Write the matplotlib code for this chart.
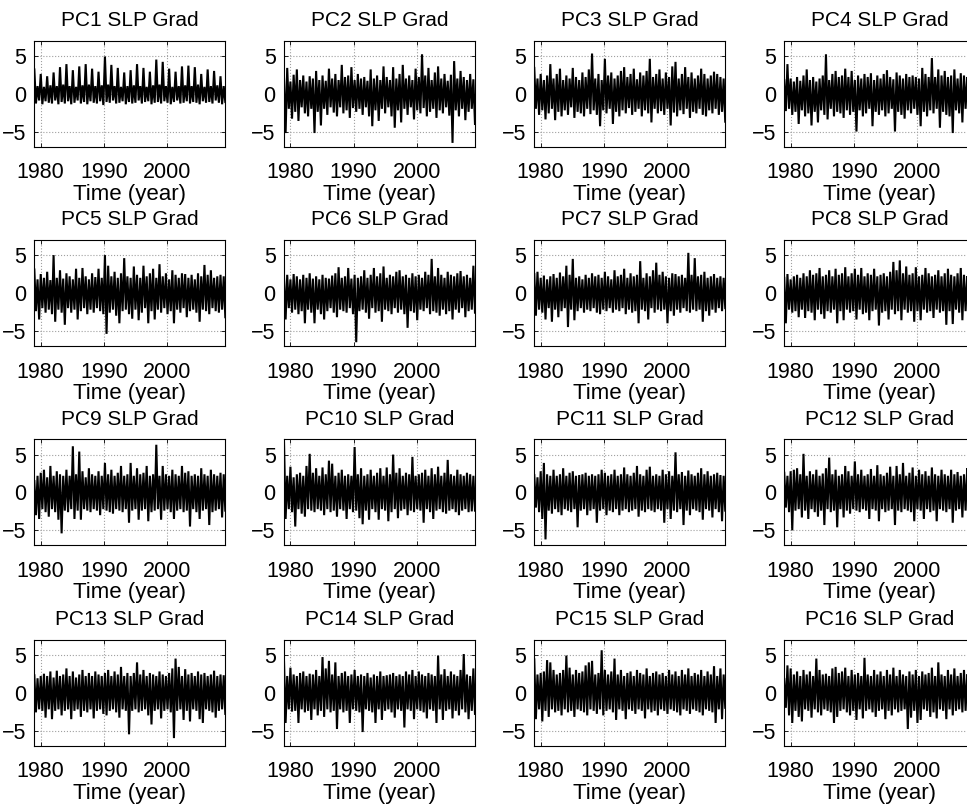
import numpy as np
import matplotlib.pyplot as plt

plt.rcParams['font.family'] = ['Liberation Sans', 'DejaVu Sans']

# ==================== data ====================
# Each PC series is kept as its upper and lower swings, read off left to right
# (roughly one value per half year, 1979-2009).
YEAR_START = 1979.0
YEAR_END = 2009.15

PC1_HI = [3.2, 1.0, 2.6, 0.9, 2.3, 1.1, 2.8, 1.0, 3.5, 1.2, 3.9, 1.0, 3.1, 0.9, 3.6, 1.1, 3.9, 1.2, 3.3, 1.0,
          2.9, 1.1, 4.9, 1.2, 3.8, 1.0, 3.4, 0.9, 2.8, 1.0, 3.1, 1.1, 3.9, 1.0, 3.4, 0.9, 2.9, 1.1, 4.5, 1.2,
          4.2, 1.0, 3.3, 0.9, 2.9, 1.0, 3.6, 1.1, 3.7, 1.0, 3.5, 1.2, 2.6, 0.9, 3.2, 1.0, 3.0, 1.1, 2.3, 1.0]
PC1_LO = [-1.3, -0.9, -1.4, -1.0, -1.2, -1.3, -0.9, -1.4, -1.1, -1.3, -1.0, -1.4, -1.2, -0.9, -1.3, -1.1, -1.4, -1.0, -1.2, -1.3,
          -1.0, -1.5, -1.1, -1.2, -0.9, -1.3, -1.2, -1.0, -1.4, -1.1, -1.3, -1.2, -0.9, -1.3, -1.1, -1.0, -1.4, -1.2, -1.1, -1.3,
          -1.0, -1.2, -1.4, -1.1, -0.9, -1.3, -1.2, -1.0, -1.3, -1.1, -1.2, -1.4, -1.0, -1.2, -1.1, -1.3, -0.9, -1.2, -1.4, -1.1]

PC2_HI = [2.0, 3.4, 1.6, 2.5, 3.2, 1.8, 2.4, 1.6, 2.3, 2.0, 3.0, 1.8, 2.4, 1.7, 3.3, 2.0, 2.6, 1.8, 3.8, 2.2,
          2.4, 3.5, 1.8, 2.6, 2.0, 2.2, 1.7, 3.2, 2.0, 2.4, 1.8, 3.6, 2.2, 1.8, 3.5, 2.0, 2.6, 3.8, 2.0, 2.4,
          1.8, 3.3, 2.2, 5.2, 2.4, 3.4, 1.8, 2.8, 3.6, 2.0, 2.6, 1.7, 2.5, 4.3, 2.0, 3.0, 2.2, 1.8, 2.6, 1.9]
PC2_LO = [-5.2, -2.0, -3.3, -2.4, -3.6, -1.8, -2.6, -3.0, -2.0, -5.2, -2.4, -4.2, -2.0, -2.8, -1.8, -2.5, -3.0, -1.8, -2.6, -2.2,
          -3.2, -1.9, -2.4, -2.0, -2.8, -1.8, -3.0, -4.3, -2.2, -3.6, -2.0, -2.6, -1.8, -3.0, -4.5, -2.2, -3.8, -2.0, -2.8, -1.8,
          -3.4, -2.2, -2.6, -1.9, -3.0, -2.4, -2.0, -3.2, -2.2, -2.6, -1.8, -2.9, -6.5, -2.2, -3.0, -2.0, -3.5, -2.4, -2.0, -4.0]

PC3_HI = [3.4, 2.0, 2.6, 1.8, 2.4, 3.9, 2.0, 2.6, 3.3, 1.8, 2.4, 2.0, 3.4, 2.2, 1.8, 2.8, 2.2, 3.2, 5.3, 2.0,
          2.6, 1.8, 4.6, 2.4, 2.8, 2.0, 2.4, 3.0, 3.5, 2.2, 2.6, 3.3, 1.9, 2.8, 2.4, 3.0, 4.6, 2.2, 2.6, 3.2,
          2.0, 2.8, 2.2, 3.6, 4.2, 2.0, 2.6, 3.5, 2.2, 2.8, 2.0, 2.4, 3.3, 2.6, 2.0, 2.4, 2.9, 2.6, 2.2, 2.0]
PC3_LO = [-2.0, -2.8, -2.2, -3.4, -2.6, -2.0, -3.5, -2.4, -3.0, -2.2, -2.8, -1.8, -3.2, -2.4, -2.6, -3.0, -2.0, -2.7, -2.2, -2.8,
          -4.3, -2.2, -2.6, -2.0, -4.0, -2.4, -3.0, -2.2, -2.6, -1.9, -2.8, -2.4, -2.0, -3.0, -2.2, -2.6, -3.8, -2.0, -2.6, -2.3,
          -2.8, -2.0, -4.2, -2.5, -3.0, -2.2, -2.7, -2.0, -3.2, -2.4, -2.6, -2.0, -2.8, -3.0, -2.2, -2.6, -2.0, -2.8, -2.4, -3.7]

PC4_HI = [1.8, 3.9, 2.0, 1.6, 2.2, 1.7, 2.4, 3.2, 1.8, 2.2, 1.6, 2.0, 2.4, 5.2, 1.8, 2.6, 3.0, 2.2, 2.4, 3.3,
          2.2, 3.0, 1.8, 2.4, 2.0, 2.6, 2.2, 2.7, 1.8, 2.4, 2.0, 2.6, 3.1, 2.2, 1.9, 2.8, 2.4, 2.0, 2.6, 2.2,
          2.4, 2.2, 2.0, 3.4, 2.6, 2.2, 4.7, 2.2, 3.2, 2.4, 3.0, 2.2, 2.4, 3.2, 2.0, 2.7, 2.4, 2.2, 2.0, 2.4]
PC4_LO = [-2.3, -2.0, -2.8, -2.4, -4.0, -2.2, -3.0, -2.6, -4.2, -2.4, -3.8, -2.2, -2.8, -3.4, -2.0, -3.0, -2.4, -2.6, -3.2, -2.2,
          -2.8, -2.4, -5.0, -2.2, -3.0, -2.6, -2.0, -4.3, -2.4, -2.8, -2.2, -3.0, -2.6, -2.0, -5.0, -2.4, -2.8, -3.3, -2.2, -2.6,
          -2.0, -2.8, -4.3, -2.4, -3.0, -2.2, -2.6, -2.0, -4.5, -2.4, -2.8, -3.0, -5.2, -2.2, -2.6, -3.8, -2.0, -2.4, -2.2, -2.6]

PC5_HI = [3.1, 1.8, 2.5, 2.0, 2.8, 1.7, 5.0, 2.0, 3.0, 1.9, 2.6, 2.2, 1.8, 3.2, 2.0, 3.3, 2.2, 1.8, 2.6, 2.1,
          3.2, 2.0, 5.0, 3.6, 2.2, 2.8, 2.0, 2.6, 4.6, 2.2, 2.0, 3.5, 2.4, 2.0, 3.6, 2.2, 2.6, 3.2, 2.0, 3.8,
          2.2, 2.6, 1.8, 3.0, 2.4, 2.0, 2.6, 2.5, 2.0, 2.4, 1.8, 2.6, 2.2, 3.7, 2.4, 3.0, 2.0, 2.2, 2.4, 2.2]
PC5_LO = [-2.4, -3.5, -2.0, -2.6, -2.2, -2.8, -3.8, -2.2, -2.6, -4.2, -2.0, -2.6, -2.2, -3.5, -2.4, -2.0, -2.8, -2.2, -2.6, -2.0,
          -2.4, -2.8, -5.4, -2.6, -2.2, -3.0, -4.0, -2.4, -2.2, -2.8, -3.4, -2.2, -3.6, -2.6, -2.0, -4.0, -2.4, -3.5, -2.2, -2.6,
          -2.0, -2.8, -2.4, -4.0, -2.2, -2.6, -2.0, -3.2, -2.4, -2.2, -2.6, -3.8, -2.2, -2.4, -2.8, -2.0, -2.4, -2.6, -2.2, -3.2]

PC6_HI = [2.0, 2.4, 1.8, 2.5, 2.2, 1.8, 2.4, 2.0, 2.6, 1.9, 2.2, 1.8, 2.4, 2.0, 1.9, 2.3, 2.6, 3.4, 2.0, 2.2,
          3.3, 1.9, 2.4, 2.0, 2.2, 3.0, 2.0, 2.4, 3.3, 2.2, 2.6, 3.5, 2.0, 2.4, 2.2, 2.8, 3.0, 2.2, 2.4, 2.0,
          2.6, 2.2, 2.4, 2.0, 2.8, 2.4, 4.5, 2.2, 3.3, 2.4, 2.0, 2.8, 2.4, 2.2, 2.6, 2.9, 2.2, 2.4, 2.0, 3.6]
PC6_LO = [-3.5, -2.0, -2.6, -2.2, -2.8, -2.4, -4.0, -2.2, -2.6, -4.0, -2.2, -2.8, -3.5, -2.4, -2.0, -2.6, -3.2, -2.2, -2.4, -2.6,
          -2.0, -2.8, -6.5, -2.4, -2.2, -2.6, -3.4, -2.0, -2.6, -2.4, -3.8, -2.2, -2.4, -2.8, -2.0, -2.6, -2.2, -2.8, -4.6, -2.4,
          -2.6, -3.6, -2.2, -2.4, -2.0, -2.8, -2.4, -2.6, -3.0, -2.2, -2.8, -2.4, -3.5, -2.2, -2.6, -2.0, -3.2, -2.4, -2.2, -2.6]

PC7_HI = [2.5, 2.8, 2.0, 2.3, 1.8, 2.2, 2.5, 2.0, 2.7, 2.2, 3.6, 2.4, 4.5, 2.0, 2.2, 1.8, 2.4, 2.0, 2.6, 2.2,
          2.4, 2.0, 2.8, 2.2, 1.8, 3.0, 2.2, 2.4, 3.2, 2.0, 2.6, 2.2, 2.4, 4.2, 2.0, 2.6, 2.2, 3.0, 4.0, 2.4,
          2.8, 2.2, 2.0, 2.6, 2.5, 2.2, 2.4, 2.0, 5.3, 2.4, 4.6, 2.2, 2.4, 2.8, 2.0, 2.2, 2.5, 2.0, 2.2, 2.0]
PC7_LO = [-3.0, -2.2, -2.6, -3.5, -2.0, -3.8, -2.2, -3.2, -2.4, -2.0, -4.5, -2.2, -3.6, -2.4, -2.0, -2.6, -2.2, -2.4, -2.0, -2.6,
          -2.8, -2.2, -2.4, -2.0, -2.6, -2.2, -2.4, -2.0, -2.8, -2.2, -2.6, -2.4, -4.0, -2.2, -2.4, -3.5, -2.0, -2.6, -2.2, -2.4,
          -2.2, -4.0, -2.4, -3.0, -2.2, -2.6, -2.0, -2.4, -2.6, -2.2, -2.4, -2.2, -3.8, -2.4, -3.0, -2.2, -2.6, -2.0, -2.4, -2.0]

PC8_HI = [2.0, 2.5, 1.8, 2.2, 2.4, 2.0, 2.6, 2.2, 3.0, 2.4, 2.6, 3.3, 2.2, 2.4, 3.0, 2.2, 3.2, 2.4, 2.6, 3.4,
          2.2, 2.6, 3.2, 2.4, 3.3, 2.2, 2.6, 2.4, 3.2, 2.2, 2.4, 2.6, 2.2, 2.8, 4.1, 3.0, 4.3, 2.6, 3.5, 2.4,
          2.6, 3.4, 2.2, 2.4, 3.3, 2.6, 2.2, 2.4, 3.0, 2.2, 2.6, 3.2, 2.4, 2.2, 2.6, 3.3, 2.4, 2.2, 3.0, 2.4]
PC8_LO = [-4.0, -2.2, -2.6, -2.4, -3.2, -2.2, -3.3, -2.4, -2.6, -3.6, -2.2, -2.8, -3.4, -2.4, -2.6, -2.2, -4.0, -2.4, -3.6, -2.2,
          -2.6, -2.4, -3.5, -2.2, -2.8, -2.6, -3.6, -2.4, -2.2, -4.3, -2.6, -2.4, -3.5, -2.2, -2.8, -2.4, -3.6, -2.2, -2.6, -2.4,
          -3.8, -2.4, -3.6, -2.2, -2.6, -2.4, -3.3, -2.2, -2.6, -2.4, -4.2, -2.4, -4.1, -2.2, -2.6, -3.6, -2.4, -2.2, -3.0, -2.4]

PC9_HI = [1.5, 2.2, 2.6, 3.0, 2.0, 3.5, 2.2, 2.8, 2.4, 2.2, 3.0, 2.2, 6.1, 2.4, 5.4, 2.8, 2.0, 3.2, 2.4, 2.2,
          2.8, 2.2, 3.9, 2.4, 3.0, 2.2, 2.6, 3.5, 2.2, 2.4, 3.9, 2.2, 3.2, 2.4, 2.6, 3.5, 2.2, 2.4, 6.3, 2.2,
          3.5, 2.4, 2.2, 3.0, 2.4, 2.2, 3.5, 2.6, 2.8, 2.2, 2.4, 2.2, 3.2, 2.4, 2.2, 3.0, 2.4, 2.2, 2.6, 2.4]
PC9_LO = [-3.0, -3.5, -2.2, -2.6, -3.2, -2.2, -2.6, -3.6, -5.4, -2.4, -2.6, -2.2, -3.5, -2.4, -3.6, -2.2, -2.4, -2.6, -2.2, -2.4,
          -3.0, -2.2, -2.4, -2.6, -2.8, -2.2, -2.4, -2.6, -2.2, -4.0, -2.4, -2.2, -3.6, -2.4, -2.2, -3.8, -2.6, -2.4, -2.2, -3.6,
          -2.4, -2.2, -2.6, -3.5, -2.4, -2.2, -2.6, -2.4, -4.5, -2.2, -2.6, -3.5, -2.4, -2.2, -4.3, -2.6, -2.4, -2.2, -3.3, -2.4]

PC10_HI = [6.6, 2.2, 3.4, 2.0, 2.4, 2.6, 2.2, 3.5, 5.1, 2.6, 3.2, 2.2, 3.3, 2.4, 4.2, 3.8, 2.2, 2.6, 3.0, 2.2,
           2.4, 2.2, 6.0, 2.4, 3.2, 2.2, 2.4, 3.0, 2.2, 2.6, 3.2, 2.2, 3.3, 2.4, 5.0, 2.6, 3.2, 2.2, 2.6, 2.4,
           4.7, 2.2, 2.4, 2.6, 3.0, 2.2, 3.2, 2.4, 3.4, 2.2, 2.6, 4.3, 2.4, 2.2, 3.0, 2.4, 2.2, 2.6, 2.4, 2.2]
PC10_LO = [-3.5, -2.2, -2.6, -4.5, -2.2, -2.8, -3.2, -2.2, -2.4, -2.6, -2.2, -2.4, -3.0, -2.2, -2.6, -2.4, -3.2, -2.2, -2.4, -3.5,
           -2.2, -2.6, -2.4, -3.4, -4.2, -2.4, -3.6, -2.2, -2.6, -3.6, -2.2, -2.4, -3.8, -2.6, -2.2, -3.4, -2.4, -2.2, -3.0, -2.4,
           -2.6, -2.2, -2.4, -4.0, -2.2, -2.6, -3.5, -2.4, -2.2, -2.6, -2.8, -2.4, -2.2, -2.6, -3.0, -2.4, -2.2, -2.6, -2.5, -2.4]

PC11_HI = [2.3, 2.0, 2.8, 3.9, 2.4, 2.2, 3.0, 2.2, 2.4, 3.2, 2.2, 2.6, 2.8, 2.2, 2.3, 2.4, 2.6, 2.2, 2.4, 2.2,
           2.4, 3.0, 2.6, 2.2, 2.4, 3.0, 2.2, 2.4, 3.3, 2.4, 2.2, 2.6, 3.5, 2.4, 2.2, 3.0, 3.4, 2.2, 2.4, 2.2,
           3.0, 2.4, 2.8, 2.2, 5.3, 2.4, 2.7, 2.2, 2.9, 2.4, 2.2, 2.6, 3.2, 2.4, 2.8, 2.2, 2.4, 2.6, 2.3, 2.2]
PC11_LO = [-2.0, -2.6, -3.5, -6.2, -2.4, -2.8, -2.2, -2.6, -3.0, -2.2, -2.4, -2.6, -2.2, -4.6, -2.4, -2.2, -3.0, -2.4, -2.2, -4.0,
           -2.4, -2.2, -3.0, -2.4, -2.6, -2.2, -3.0, -2.4, -2.2, -2.6, -2.4, -2.2, -3.2, -2.4, -2.6, -2.2, -2.4, -2.6, -2.2, -2.4,
           -4.0, -2.2, -3.5, -2.4, -2.6, -2.2, -4.3, -2.4, -3.0, -2.2, -2.4, -2.6, -3.6, -2.2, -2.4, -3.3, -2.2, -2.6, -3.8, -2.4]

PC12_HI = [2.6, 2.2, 2.8, 3.0, 3.2, 2.4, 5.1, 2.2, 2.8, 2.4, 3.0, 2.2, 2.5, 3.2, 4.6, 2.4, 3.0, 2.2, 2.4, 3.5,
           2.8, 2.2, 4.1, 2.4, 3.0, 2.2, 2.4, 3.1, 2.2, 3.6, 2.4, 2.2, 2.6, 3.4, 2.2, 3.5, 2.4, 3.9, 2.2, 2.6,
           3.3, 2.2, 3.0, 2.4, 2.8, 2.2, 3.3, 2.4, 2.2, 3.0, 2.4, 2.2, 3.0, 2.4, 2.7, 2.2, 2.4, 3.2, 2.4, 2.2]
PC12_LO = [-2.0, -2.6, -5.0, -2.4, -2.2, -3.3, -2.4, -3.5, -2.2, -2.6, -3.2, -2.4, -4.3, -2.2, -2.6, -2.4, -4.6, -2.2, -3.3, -2.4,
           -2.8, -2.2, -2.4, -2.6, -2.2, -2.4, -3.5, -2.2, -2.4, -3.8, -2.2, -2.6, -2.4, -2.2, -4.3, -2.4, -2.6, -2.2, -2.4, -2.6,
           -3.8, -2.2, -2.4, -3.5, -2.2, -2.6, -2.4, -3.8, -2.2, -2.4, -2.6, -2.2, -4.0, -2.4, -2.2, -3.3, -2.4, -2.2, -2.8, -2.4]

PC13_HI = [2.3, 1.9, 2.2, 2.5, 2.2, 2.8, 2.0, 2.9, 2.2, 2.4, 3.2, 2.2, 2.8, 2.0, 2.4, 3.0, 2.2, 2.6, 2.2, 2.8,
           2.4, 2.2, 2.6, 3.0, 2.2, 2.8, 2.4, 3.4, 2.2, 2.6, 2.2, 2.6, 4.0, 2.4, 3.0, 2.2, 2.6, 2.4, 2.2, 2.8,
           2.4, 2.2, 2.6, 3.2, 4.5, 3.4, 2.2, 3.1, 2.4, 2.6, 2.2, 2.8, 2.4, 2.6, 2.2, 2.4, 2.9, 2.2, 2.4, 2.3]
PC13_LO = [-2.6, -2.2, -2.4, -3.3, -2.2, -3.5, -2.4, -2.2, -3.0, -2.4, -2.2, -3.5, -2.4, -2.2, -3.2, -2.4, -2.6, -2.2, -3.4, -2.4,
           -2.2, -2.8, -3.0, -2.4, -2.2, -2.6, -3.3, -2.2, -2.4, -5.5, -2.4, -2.2, -2.6, -2.4, -2.2, -3.0, -4.2, -2.4, -2.2, -3.4,
           -2.4, -2.2, -2.6, -6.0, -2.4, -2.2, -3.6, -2.4, -3.8, -2.2, -2.4, -3.5, -4.0, -2.2, -2.4, -2.6, -3.3, -2.4, -2.2, -2.8]

PC14_HI = [4.1, 2.2, 3.3, 2.4, 2.2, 2.6, 2.8, 2.2, 2.5, 2.4, 3.0, 2.2, 4.7, 3.2, 4.2, 2.4, 4.0, 2.2, 2.6, 2.8,
           2.2, 2.4, 3.0, 2.2, 2.4, 2.2, 2.6, 2.0, 2.4, 2.2, 2.8, 2.2, 2.3, 2.4, 2.6, 2.2, 2.4, 2.2, 2.8, 2.4,
           3.0, 2.2, 2.8, 2.4, 2.2, 2.6, 2.4, 2.2, 4.9, 2.4, 3.1, 2.2, 2.8, 2.4, 2.2, 3.0, 5.1, 2.4, 2.2, 3.2]
PC14_LO = [-4.0, -2.2, -2.5, -2.4, -4.0, -2.2, -2.6, -2.4, -3.6, -2.2, -3.0, -2.4, -3.2, -2.2, -2.6, -2.4, -4.8, -2.2, -2.6, -2.4,
           -4.0, -2.2, -2.4, -2.6, -5.2, -2.2, -2.4, -2.6, -4.0, -2.2, -3.6, -2.4, -2.2, -2.6, -3.3, -2.2, -2.4, -4.6, -2.2, -2.4,
           -3.5, -2.2, -2.4, -2.6, -3.4, -2.2, -2.4, -4.0, -2.2, -3.6, -2.4, -2.2, -3.4, -2.4, -3.0, -2.2, -2.6, -3.5, -2.4, -2.8]

PC15_HI = [4.4, 2.4, 2.6, 2.8, 4.3, 4.0, 3.0, 2.4, 2.6, 3.0, 4.9, 3.3, 2.4, 3.0, 2.6, 2.8, 3.6, 4.0, 4.2, 2.4,
           2.6, 5.6, 3.0, 2.4, 2.8, 4.5, 2.4, 3.0, 2.2, 2.6, 2.8, 2.2, 3.0, 2.6, 2.4, 3.2, 2.2, 2.6, 2.8, 2.4,
           2.6, 2.2, 3.0, 2.4, 2.8, 2.2, 3.0, 2.4, 3.2, 2.2, 2.6, 2.4, 3.0, 2.2, 2.8, 2.4, 3.5, 2.2, 3.2, 2.4]
PC15_LO = [-3.5, -2.2, -3.8, -2.4, -3.2, -2.2, -2.6, -2.4, -3.0, -2.2, -2.6, -2.4, -3.2, -2.2, -2.4, -2.6, -3.0, -2.2, -2.4, -2.8,
           -2.2, -3.0, -2.4, -2.2, -2.6, -3.6, -2.2, -2.4, -3.5, -2.2, -2.4, -2.8, -2.2, -2.4, -3.4, -2.2, -2.6, -2.4, -3.0, -2.2,
           -2.4, -2.8, -2.2, -2.4, -2.6, -3.0, -2.2, -2.4, -2.8, -2.2, -2.4, -2.6, -3.0, -2.2, -2.4, -2.6, -4.0, -2.2, -3.5, -2.0]

PC16_HI = [1.8, 3.6, 3.2, 2.4, 2.8, 2.2, 3.0, 2.4, 2.8, 2.2, 4.5, 3.0, 2.4, 2.5, 2.2, 3.2, 3.4, 2.6, 2.8, 3.3,
           2.2, 3.0, 2.4, 2.6, 2.2, 4.6, 2.4, 2.2, 3.0, 2.4, 2.8, 2.2, 3.0, 2.4, 3.3, 2.2, 3.0, 2.4, 2.2, 2.8,
           2.4, 3.0, 2.2, 2.8, 2.4, 2.6, 3.3, 2.2, 4.0, 2.4, 2.2, 3.0, 2.4, 3.2, 2.2, 2.6, 3.0, 2.4, 2.2, 2.2]
PC16_LO = [-2.0, -3.0, -4.0, -2.4, -3.2, -3.8, -2.2, -2.4, -3.3, -2.2, -2.6, -3.0, -2.2, -2.4, -2.6, -4.0, -3.2, -2.4, -2.2, -2.6,
           -3.0, -2.4, -3.6, -2.2, -3.4, -2.4, -2.2, -2.6, -3.2, -2.4, -2.2, -3.5, -2.4, -3.0, -2.2, -2.6, -2.4, -2.2, -4.8, -3.3,
           -2.4, -4.0, -3.6, -2.2, -2.4, -3.2, -2.6, -3.4, -2.2, -2.4, -3.5, -2.2, -3.0, -2.4, -2.2, -2.6, -2.4, -2.2, -2.4, -2.6]

SERIES = [
    (PC1_HI, PC1_LO), (PC2_HI, PC2_LO), (PC3_HI, PC3_LO), (PC4_HI, PC4_LO),
    (PC5_HI, PC5_LO), (PC6_HI, PC6_LO), (PC7_HI, PC7_LO), (PC8_HI, PC8_LO),
    (PC9_HI, PC9_LO), (PC10_HI, PC10_LO), (PC11_HI, PC11_LO), (PC12_HI, PC12_LO),
    (PC13_HI, PC13_LO), (PC14_HI, PC14_LO), (PC15_HI, PC15_LO), (PC16_HI, PC16_LO),
]
TITLES = ['PC%d SLP Grad' % k for k in range(1, 17)]
X_TICKS = [1980, 1990, 2000]
Y_TICKS = [-5, 0, 5]

# ==================== layout ====================
COL_LEFT = [0.0355, 0.2937, 0.5525, 0.8110]
ROW_BOTTOM = [0.8178, 0.5702, 0.3224, 0.0737]
AX_W = 0.1975
AX_H = 0.1317


def zigzag(hi, lo):
    """interleave upper and lower swings into one trace"""
    n = min(len(hi), len(lo))
    y = np.empty(2 * n)
    y[0::2] = hi[:n]
    y[1::2] = lo[:n]
    t = np.linspace(YEAR_START, YEAR_END, 2 * n)
    return t, y


fig = plt.figure(figsize=(9.67, 8.05), dpi=100)

for k, (hi, lo) in enumerate(SERIES):
    r, c = divmod(k, 4)
    ax = fig.add_axes([COL_LEFT[c], ROW_BOTTOM[r], AX_W, AX_H])
    t, y = zigzag(hi, lo)
    ax.plot(t, y, color='k', linewidth=1.5, solid_joinstyle='miter')

    ax.set_xlim(YEAR_START, YEAR_END)
    ax.set_ylim(-7, 7)
    ax.set_xticks(X_TICKS)
    ax.set_yticks(Y_TICKS)
    ax.grid(True, linestyle=':', color='#a0a0a0', linewidth=0.8)
    ax.tick_params(direction='in', length=3, width=0.6, top=True, right=True,
                   labelsize=15.5)
    ax.tick_params(axis='x', pad=11.2)
    ax.tick_params(axis='y', pad=6)
    for s in ax.spines.values():
        s.set_linewidth(0.8)
    ax.set_title(TITLES[k], fontsize=15, pad=10.5)
    ax.set_xlabel('Time (year)', fontsize=16, labelpad=0.3)

fig.savefig('out.png', dpi=100)
